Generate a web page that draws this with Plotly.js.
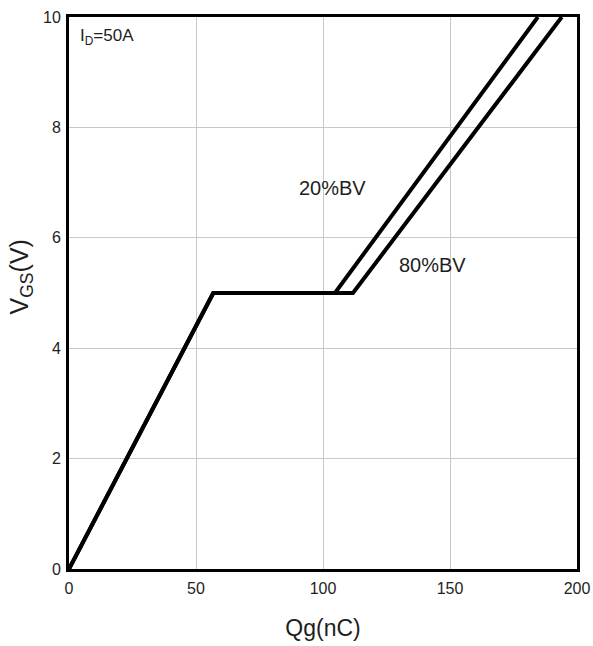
<!DOCTYPE html>
<html>
<head>
<meta charset="utf-8">
<script src="https://cdn.plot.ly/plotly-3.0.1.min.js"></script>
<style>html,body{margin:0;padding:0;background:#fff;}#chart{width:593px;height:646px;}</style>
</head>
<body>
<div id="chart"></div>
<script>
// Gate charge curves, VGS vs Qg, at ID = 50 A
const qg20 = [0, 56.8, 104.7, 184.6];
const vgs20 = [0, 5, 5, 10];
const qg80 = [0, 56.8, 111.8, 194.0];
const vgs80 = [0, 5, 5, 10];
const xTicks = [0, 50, 100, 150, 200];
const yTicks = [0, 2, 4, 6, 8, 10];

const lineStyle = {color: '#000', width: 4};
const data = [
  {x: qg80, y: vgs80, mode: 'lines', line: lineStyle, name: '80%BV', hoverinfo: 'skip'},
  {x: qg20, y: vgs20, mode: 'lines', line: lineStyle, name: '20%BV', hoverinfo: 'skip'}
];

const fam = 'Liberation Sans, Arial, sans-serif';
const ink = '#1e1e1e';
const layout = {
  width: 593, height: 646,
  margin: {l: 69, r: 16, t: 17, b: 77},
  paper_bgcolor: '#fff', plot_bgcolor: '#fff',
  showlegend: false,
  font: {family: fam, color: ink},
  xaxis: {
    range: [0, 200], tickvals: xTicks, ticktext: xTicks.map(String),
    showgrid: true, gridcolor: '#c8c8c8', gridwidth: 1,
    zeroline: false, showline: true, linecolor: '#000', linewidth: 3, mirror: true,
    ticks: '', ticklabelstandoff: 3, tickfont: {size: 16, family: fam, color: ink},
    title: {text: 'Qg(nC)', font: {size: 23, family: fam, color: ink}, standoff: 24}
  },
  yaxis: {
    range: [0, 10], tickvals: yTicks, ticktext: yTicks.map(String),
    showgrid: true, gridcolor: '#c8c8c8', gridwidth: 1,
    zeroline: false, showline: true, linecolor: '#000', linewidth: 3, mirror: true,
    ticks: '', ticklabelstandoff: 2, tickfont: {size: 16, family: fam, color: ink}
  },
  annotations: [
    // y-axis title, placed as a rotated annotation
    {x: -0.0945, y: 0.53, xref: 'paper', yref: 'paper', xanchor: 'center', yanchor: 'middle',
     textangle: -90, showarrow: false,
     text: 'V<sub>GS</sub>(V)', font: {size: 25, family: fam, color: ink}},
    {x: 3.5, y: 9.64, xref: 'x', yref: 'y', xanchor: 'left', yanchor: 'middle', showarrow: false,
     text: 'I<sub>D</sub>=50A', font: {size: 17, family: fam, color: ink}},
    {x: 89.8, y: 6.9, xref: 'x', yref: 'y', xanchor: 'left', yanchor: 'middle', showarrow: false,
     text: '20%BV', font: {size: 20, family: fam, color: ink}},
    {x: 129.1, y: 5.51, xref: 'x', yref: 'y', xanchor: 'left', yanchor: 'middle', showarrow: false,
     text: '80%BV', font: {size: 20, family: fam, color: ink}}
  ]
};

Plotly.newPlot('chart', data, layout, {displayModeBar: false, staticPlot: true});
</script>
</body>
</html>
